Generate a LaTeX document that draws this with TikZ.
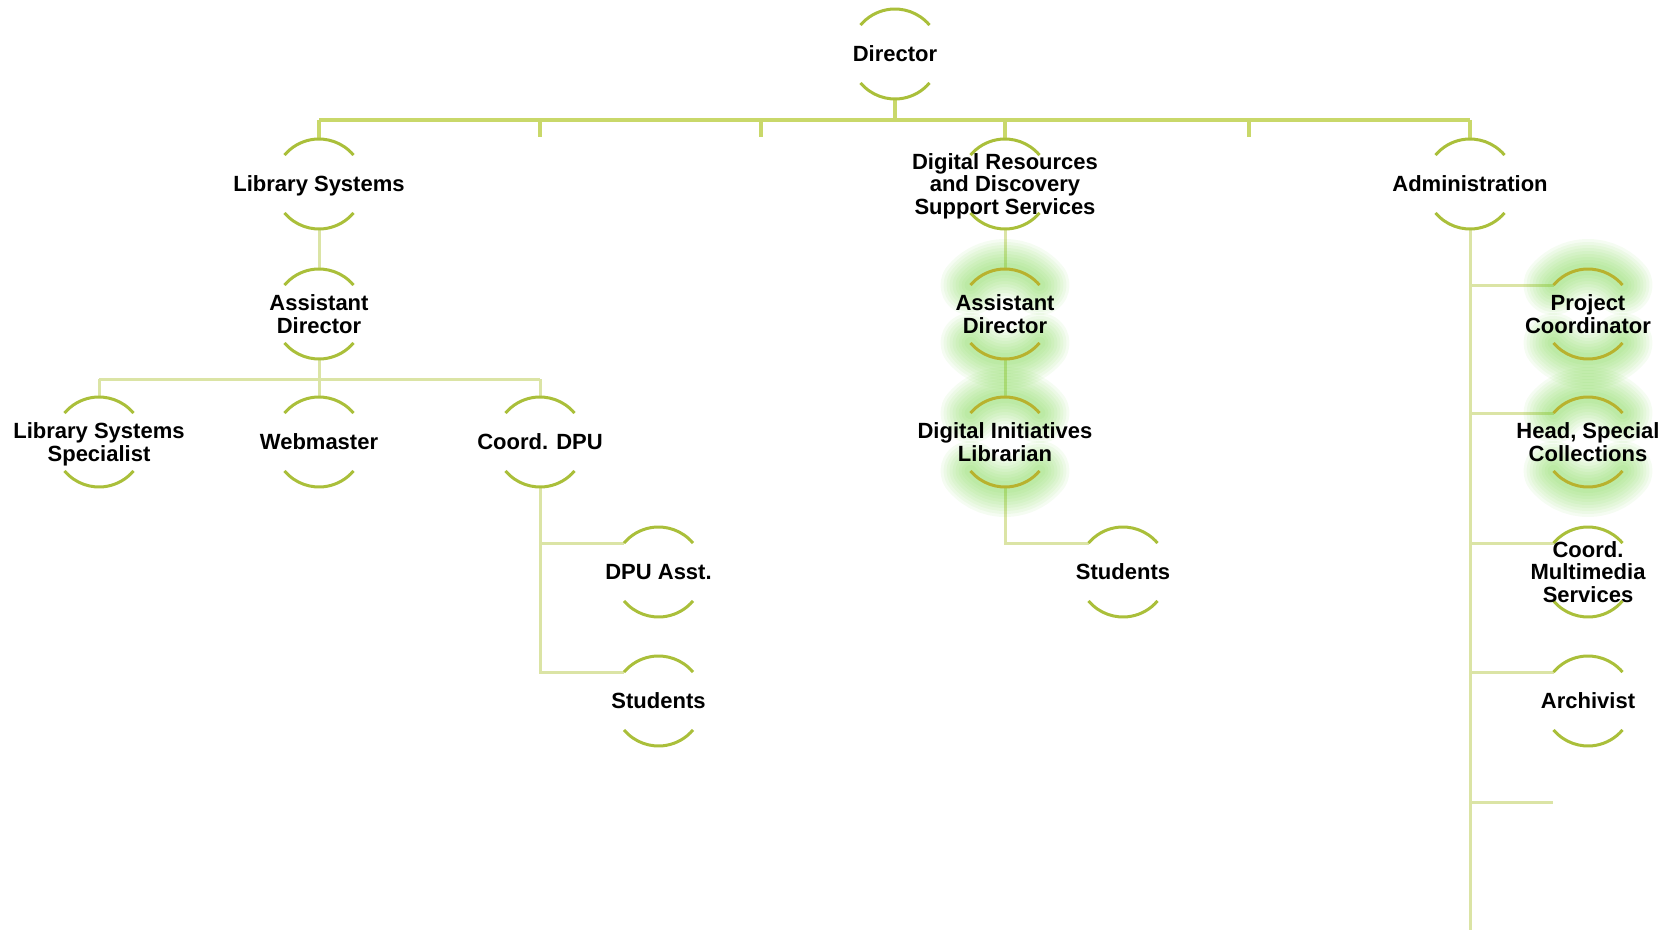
\documentclass[tikz,border=0pt]{standalone}
\usepackage{fontspec}
\setmainfont{Liberation Sans}
\usetikzlibrary{backgrounds}

\definecolor{rimcol}{RGB}{170,191,58}
\definecolor{rimglowcol}{RGB}{184,178,46}
\definecolor{barcol}{RGB}{201,216,106}
\definecolor{linkcol}{RGB}{219,228,165}
\definecolor{glowcol}{RGB}{110,210,60}

\tikzset{
  x=0.5pt, y=0.5pt,
  role/.style={font=\bfseries\fontsize{11}{11.25}\selectfont, align=center,
               inner sep=0pt, text=black, text depth=0pt},
  rim/.style={draw=rimcol, line width=1.5pt},
  mainlink/.style={draw=barcol, line width=1.6pt},
  sublink/.style={draw=linkcol, line width=1.5pt},
}

% the two open arcs that frame every role
\newcommand\rims[2][rimcol]{%
  \draw[rim, draw=#1] ([shift={(40:22.5pt)}]#2.center) arc (40:140:22.5pt);
  \draw[rim, draw=#1] ([shift={(220:22.5pt)}]#2.center) arc (220:320:22.5pt);
}
% soft green halo around the arcs of highlighted roles
\newcommand\halo[1]{%
  \foreach \w in {30,27,24,21,18,15,12,9,6}{
    \draw[glowcol, opacity=0.065, line width=\w pt, line cap=round]
      ([shift={(40:22.5pt)}]#1.center) arc (40:140:22.5pt);
    \draw[glowcol, opacity=0.065, line width=\w pt, line cap=round]
      ([shift={(220:22.5pt)}]#1.center) arc (220:320:22.5pt);
  }%
}

\begin{document}
\begin{tikzpicture}
\useasboundingbox (0,0) rectangle (1668,-930);

% roles
\node[role] (dir)  at (895,-54)    {Director};
\node[role] (ls)   at (319,-184)   {Library Systems};
\node[role] (drs)  at (1005,-184)  {Digital Resources\\and Discovery\\Support Services};
\node[role] (adm)  at (1470,-184)  {Administration};
\node[role] (lsad) at (319,-314)   {Assistant\\Director};
\node[role] (drad) at (1005,-314)  {Assistant\\Director};
\node[role] (pc)   at (1588,-314)  {Project\\Coordinator};
\node[role] (lss)  at (99,-442)    {Library Systems\\Specialist};
\node[role] (web)  at (319,-442)   {Webmaster};
\node[role] (cdpu) at (540,-442)   {Coord. DPU};
\node[role] (dil)  at (1005,-442)  {Digital Initiatives\\Librarian};
\node[role] (hsc)  at (1588,-442)  {Head, Special\\Collections};
\node[role] (dpua) at (658.5,-572) {DPU Asst.};
\node[role] (stb)  at (1123,-572)  {Students};
\node[role] (cms)  at (1588,-572)  {Coord.\\Multimedia\\Services};
\node[role] (sta)  at (658.5,-701) {Students};
\node[role] (arch) at (1588,-701)  {Archivist};

% junction points
\coordinate (bar)  at (0,-120);
\coordinate (tka)  at (540,-137);
\coordinate (tkb)  at (761,-137);
\coordinate (tkc)  at (1249,-137);
\coordinate (lvl)  at (0,-379);
\coordinate (open) at (1553,-802);
\coordinate (foot) at (1470,-930);
\foreach \n in {pc,hsc,cms,arch,dpua,sta,stb}{
  \path (\n.center) ++(140:22.5pt) coordinate (\n-in);
}

\begin{scope}[on background layer]
  % director to the department bar
  \draw[mainlink] ([yshift=-22.5pt]dir.center) -- (dir |- bar);
  \draw[mainlink] (ls |- bar) -- (adm |- bar);
  \foreach \n in {ls,drs,adm}{
    \draw[mainlink] (\n |- bar) -- ([yshift=22.5pt]\n.center);
  }
  \foreach \t in {tka,tkb,tkc}{
    \draw[mainlink] (\t |- bar) -- (\t);
  }

  % library systems branch
  \draw[sublink] ([yshift=-22.5pt]ls.center) -- ([yshift=22.5pt]lsad.center);
  \draw[sublink] ([yshift=-22.5pt]lsad.center) -- (lsad |- lvl);
  \draw[sublink] (lss |- lvl) -- (cdpu |- lvl);
  \foreach \n in {lss,web,cdpu}{
    \draw[sublink] (\n |- lvl) -- ([yshift=22.5pt]\n.center);
  }
  \draw[sublink] ([yshift=-22.5pt]cdpu.center) -- (sta-in -| cdpu) -- (sta-in);
  \draw[sublink] (dpua-in -| cdpu) -- (dpua-in);

  % digital resources branch
  \draw[sublink] ([yshift=-22.5pt]drs.center) -- ([yshift=22.5pt]drad.center);
  \draw[sublink] ([yshift=-22.5pt]drad.center) -- ([yshift=22.5pt]dil.center);
  \draw[sublink] ([yshift=-22.5pt]dil.center) -- (stb-in -| dil) -- (stb-in);

  % administration branch
  \draw[sublink] ([yshift=-22.5pt]adm.center) -- (foot);
  \foreach \n in {pc,hsc,cms,arch}{
    \draw[sublink] (\n-in -| adm) -- (\n-in);
  }
  \draw[sublink] (open -| adm) -- (open);

  % highlighted roles
  \foreach \n in {drad,dil,pc,hsc}{ \halo{\n} }

  % role frames
  \foreach \n in {dir,ls,drs,adm,lsad,lss,web,cdpu,dpua,stb,cms,sta,arch}{
    \rims{\n}
  }
  \foreach \n in {drad,dil,pc,hsc}{ \rims[rimglowcol]{\n} }
\end{scope}
\end{tikzpicture}
\end{document}
